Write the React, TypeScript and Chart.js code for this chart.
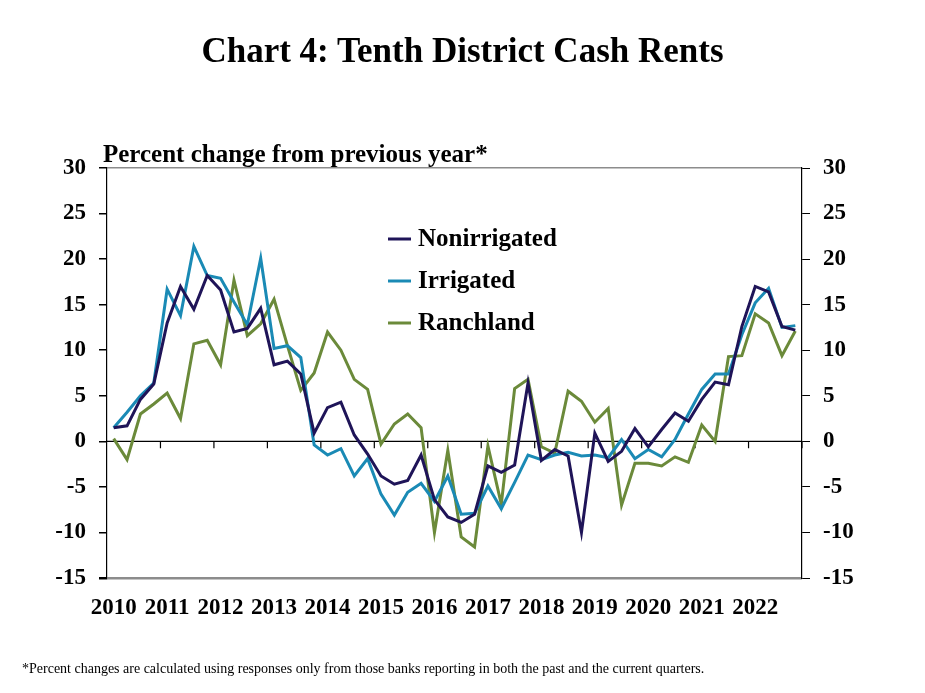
import React, { useEffect, useRef } from "react";
import Chart from "chart.js/auto";

const years = ["2010", "2011", "2012", "2013", "2014", "2015", "2016", "2017", "2018", "2019", "2020", "2021", "2022"];
const quarters = ["Q1", "Q2", "Q3", "Q4"];
const labels = years.flatMap((y) => quarters.map((q) => `${y} ${q}`));

const nonirrigated = [
  1.5, 1.7, 4.6, 6.3, 13.0, 17.0, 14.5, 18.2, 16.6, 12.0, 12.4, 14.6, 8.4,
  8.8, 7.4, 0.9, 3.7, 4.3, 0.7, -1.4, -3.8, -4.7, -4.3, -1.5, -6.4, -8.3,
  -8.9, -8.0, -2.7, -3.4, -2.6, 6.4, -2.1, -0.9, -1.6, -10.0, 0.9, -2.2, -1.1,
  1.4, -0.6, 1.3, 3.1, 2.2, 4.6, 6.5, 6.2, 12.6, 17.0, 16.4, 12.6, 12.2,
];
const irrigated = [
  1.5, 3.2, 5.0, 6.4, 16.7, 13.8, 21.4, 18.2, 17.9, 15.3, 12.8, 20.1, 10.2,
  10.5, 9.2, -0.4, -1.5, -0.8, -3.8, -1.9, -5.8, -8.1, -5.6, -4.6, -6.6, -3.8,
  -8.0, -7.9, -4.9, -7.4, -4.5, -1.5, -2.0, -1.5, -1.2, -1.6, -1.5, -1.8, 0.2,
  -1.9, -0.9, -1.7, 0.2, 3.0, 5.7, 7.4, 7.4, 11.7, 15.2, 16.8, 12.5, 12.7,
];
const ranchland = [
  0.3, -2.0, 3.0, 4.1, 5.3, 2.5, 10.7, 11.1, 8.4, 17.7, 11.6, 12.9, 15.6,
  10.5, 5.6, 7.5, 12.0, 10.0, 6.8, 5.7, -0.3, 1.9, 3.0, 1.5, -10.0, -1.0,
  -10.5, -11.6, -0.5, -6.9, 5.8, 6.8, -0.6, -1.3, 5.5, 4.4, 2.1, 3.6, -7.0,
  -2.4, -2.4, -2.7, -1.7, -2.3, 1.8, 0.0, 9.3, 9.4, 14.0, 13.0, 9.4, 12.1,
];

const yMin = -15;
const yMax = 30;
const yStep = 5;

const NAVY = "#1f1458";
const BLUE = "#1a8ab5";
const GREEN = "#6b8a3a";
const SERIF = "'Liberation Serif', 'Times New Roman', serif";

// zero line with year tick marks hanging from it
const zeroAxisPlugin = {
  id: "zeroAxis",
  beforeDatasetsDraw(chart: any) {
    const { ctx, chartArea, scales } = chart;
    const x = scales.x;
    const y0 = scales.y.getPixelForValue(0);
    ctx.save();
    ctx.strokeStyle = "#000";
    ctx.lineWidth = 1.2;
    ctx.beginPath();
    ctx.moveTo(chartArea.left, y0);
    ctx.lineTo(chartArea.right, y0);
    const half = (x.getPixelForValue(1) - x.getPixelForValue(0)) / 2;
    for (let i = 4; i <= labels.length; i += 4) {
      const xb = x.getPixelForValue(i - 1) + half;
      ctx.moveTo(xb, y0);
      ctx.lineTo(xb, y0 + 7);
    }
    ctx.stroke();
    ctx.restore();
  },
};

const legendPlugin = {
  id: "insideLegend",
  afterDraw(chart: any) {
    const { ctx, chartArea } = chart;
    const x0 = chartArea.left + 281;
    ctx.save();
    ctx.font = `bold 25px ${SERIF}`;
    ctx.textBaseline = "middle";
    chart.data.datasets.forEach((ds: any, i: number) => {
      const yy = chartArea.top + 71 + i * 42;
      ctx.strokeStyle = ds.borderColor;
      ctx.lineWidth = 3;
      ctx.beginPath();
      ctx.moveTo(x0, yy);
      ctx.lineTo(x0 + 23, yy);
      ctx.stroke();
      ctx.fillStyle = "#000";
      ctx.fillText(ds.label, x0 + 30, yy + 1);
    });
    ctx.restore();
  },
};

export default function App() {
  const canvasRef = useRef<HTMLCanvasElement | null>(null);

  useEffect(() => {
    if (!canvasRef.current) return;
    const tickFont = { family: SERIF, size: 23, weight: "bold" as const };
    const chart = new Chart(canvasRef.current, {
      type: "line",
      data: {
        labels,
        datasets: [
          { label: "Nonirrigated", data: nonirrigated, borderColor: NAVY, yAxisID: "y" },
          { label: "Irrigated", data: irrigated, borderColor: BLUE, yAxisID: "y" },
          { label: "Ranchland", data: ranchland, borderColor: GREEN, yAxisID: "y" },
        ].map((d) => ({ ...d, borderWidth: 3, pointRadius: 0, tension: 0, fill: false })),
      },
      options: {
        animation: false,
        responsive: true,
        maintainAspectRatio: false,
        layout: { padding: { top: 168, left: 0, right: 0, bottom: 0 } },
        plugins: {
          legend: { display: false },
          tooltip: { enabled: false },
          title: { display: false },
        },
        scales: {
          x: {
            type: "category",
            offset: true,
            grid: { display: false, offset: true },
            border: { display: false },
            ticks: {
              autoSkip: false,
              maxRotation: 0,
              minRotation: 0,
              padding: 8,
              color: "#000",
              font: tickFont,
              callback: (_v: any, i: number) => (i % 4 === 0 ? years[i / 4] : ""),
            },
            afterFit: (s: any) => {
              s.height = 115;
            },
          },
          y: {
            position: "left",
            min: yMin,
            max: yMax,
            ticks: { stepSize: yStep, padding: 13, color: "#000", font: tickFont },
            grid: {
              drawOnChartArea: true,
              drawTicks: true,
              tickLength: 8,
              tickColor: "#000",
              color: (c: any) =>
                c.tick && (c.tick.value === yMax || c.tick.value === yMin) ? "#8c8c8c" : "rgba(0,0,0,0)",
              lineWidth: (c: any) => (c.tick && c.tick.value === yMin ? 2.5 : 1.5),
            },
            border: { display: true, color: "#000", width: 1.2 },
            afterFit: (s: any) => {
              s.width = 107;
            },
          },
          y2: {
            position: "right",
            min: yMin,
            max: yMax,
            ticks: { stepSize: yStep, padding: 13, color: "#000", font: tickFont },
            grid: { drawOnChartArea: false, drawTicks: true, tickLength: 8, tickColor: "#000" },
            border: { display: true, color: "#000", width: 1.2 },
            afterFit: (s: any) => {
              s.width = 123;
            },
          },
        },
      },
      plugins: [zeroAxisPlugin, legendPlugin],
    });
    return () => chart.destroy();
  }, []);

  return (
    <div
      style={{
        position: "absolute",
        left: 0,
        top: 0,
        width: 925,
        height: 693,
        background: "#fff",
        fontFamily: SERIF,
        color: "#000",
      }}
    >
      <canvas ref={canvasRef} style={{ position: "absolute", left: 0, top: 0 }} />
      <div
        style={{
          position: "absolute",
          left: 0,
          width: 925,
          top: 31,
          textAlign: "center",
          fontSize: 35,
          fontWeight: "bold",
        }}
      >
        Chart 4: Tenth District Cash Rents
      </div>
      <div style={{ position: "absolute", left: 103, top: 140, fontSize: 25, fontWeight: "bold" }}>
        Percent change from previous year*
      </div>
      <div style={{ position: "absolute", left: 22, top: 661, fontSize: 14 }}>
        *Percent changes are calculated using responses only from those banks reporting in both the past and the
        current quarters.
      </div>
    </div>
  );
}
